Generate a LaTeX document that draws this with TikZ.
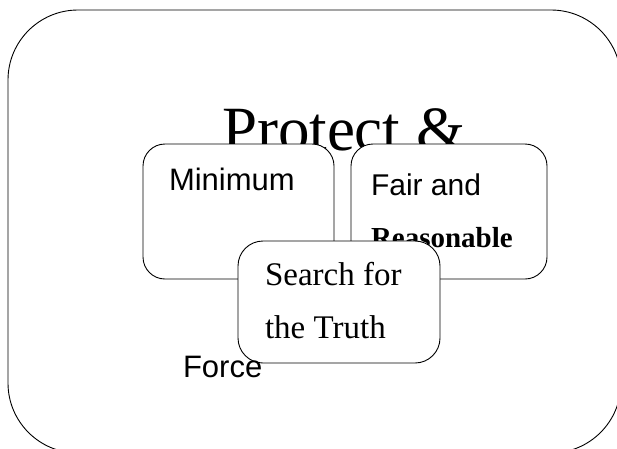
\documentclass[tikz,border=0pt]{standalone}
\usepackage{fontspec}
\setmainfont{Liberation Serif}
\newfontfamily\arialish{Liberation Sans}
\newfontfamily\timesish{Liberation Serif}
\begin{document}
\begin{tikzpicture}[x=1pt,y=-1pt,
  card/.style={draw=black, line width=0.9pt, fill=white, rounded corners=22pt,
    inner sep=0pt, outer sep=0pt},
  label/.style={anchor=base west, inner sep=0pt, outer sep=0pt},
  sanslabel/.style={label, font=\arialish\fontsize{31}{31}\selectfont},
  seriflabel/.style={label, font=\timesish\fontsize{33}{33}\selectfont}]
  \clip (0,0) rectangle (617,448);
  \useasboundingbox (0,0) rectangle (617,448);
  % outer frame, running past the right and bottom edges
  \node[card, rounded corners=70pt, fill=none, minimum width=613pt, minimum height=443pt]
    (frame) at (314.5,231.5) {};
  % heading, partly covered by the two upper cards
  \node[label, font=\timesish\fontsize{63}{63}\selectfont] (title) at (222,150) {Protect \&};
  % left card
  \node[card, minimum width=191pt, minimum height=135pt] (minbox) at (238.5,211.5) {};
  \node[sanslabel] (mintext) at (169,190) {Minimum};
  % right card
  \node[card, minimum width=196pt, minimum height=135pt] (fairbox) at (449,211.5) {};
  \node[sanslabel, font=\arialish\fontsize{30}{30}\selectfont] (fairtext) at (371,195) {Fair and};
  \node[label, font=\timesish\bfseries\fontsize{29}{29}\selectfont] (reastext) at (371,247) {Reasonable};
  % front card
  \node[card, rounded corners=25pt, minimum width=202pt, minimum height=122pt] (searchbox) at (339,302) {};
  \node[seriflabel] (searchtext) at (265,285) {Search for};
  \node[seriflabel] (truthtext) at (265,338) {the Truth};
  % overflow word of the left card, on top
  \node[sanslabel] (forcetext) at (183,377) {Force};
\end{tikzpicture}
\end{document}
